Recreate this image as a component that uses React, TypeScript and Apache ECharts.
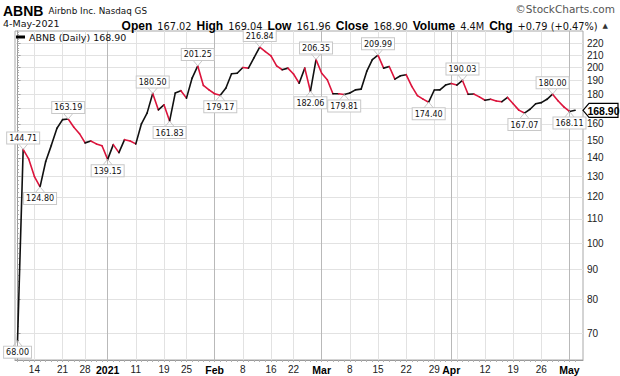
import React, { useEffect, useRef } from 'react';
import * as echarts from 'echarts';

// Trading days (Dec 9, 2020 = IPO price point) through May 4, 2021
const dates = [
  '2020-12-09','2020-12-10','2020-12-11','2020-12-14','2020-12-15','2020-12-16','2020-12-17','2020-12-18',
  '2020-12-21','2020-12-22','2020-12-23','2020-12-24','2020-12-28','2020-12-29','2020-12-30','2020-12-31',
  '2021-01-04','2021-01-05','2021-01-06','2021-01-07','2021-01-08','2021-01-11','2021-01-12','2021-01-13',
  '2021-01-14','2021-01-15','2021-01-19','2021-01-20','2021-01-21','2021-01-22','2021-01-25','2021-01-26',
  '2021-01-27','2021-01-28','2021-01-29','2021-02-01','2021-02-02','2021-02-03','2021-02-04','2021-02-05',
  '2021-02-08','2021-02-09','2021-02-10','2021-02-11','2021-02-12','2021-02-16','2021-02-17','2021-02-18',
  '2021-02-19','2021-02-22','2021-02-23','2021-02-24','2021-02-25','2021-02-26','2021-03-01','2021-03-02',
  '2021-03-03','2021-03-04','2021-03-05','2021-03-08','2021-03-09','2021-03-10','2021-03-11','2021-03-12',
  '2021-03-15','2021-03-16','2021-03-17','2021-03-18','2021-03-19','2021-03-22','2021-03-23','2021-03-24',
  '2021-03-25','2021-03-26','2021-03-29','2021-03-30','2021-03-31','2021-04-01','2021-04-05','2021-04-06',
  '2021-04-07','2021-04-08','2021-04-09','2021-04-12','2021-04-13','2021-04-14','2021-04-15','2021-04-16',
  '2021-04-19','2021-04-20','2021-04-21','2021-04-22','2021-04-23','2021-04-26','2021-04-27','2021-04-28',
  '2021-04-29','2021-04-30','2021-05-03','2021-05-04'
];

const closes = [
  68.00, 144.71, 139.25, 130.00, 124.80, 137.99, 147.05, 157.30,
  162.80, 163.19, 158.00, 154.00, 148.50, 149.60, 147.90, 146.80,
  139.15, 147.50, 142.90, 150.40, 149.60, 147.90, 160.10, 167.00,
  180.50, 169.20, 172.60, 161.83, 180.80, 182.50, 177.20, 191.80,
  201.25, 186.30, 183.10, 180.30, 179.17, 184.40, 195.10, 195.50,
  200.00, 199.50, 208.00, 216.84, 213.00, 209.40, 201.30, 198.20,
  199.50, 194.90, 188.00, 199.50, 182.06, 206.35, 195.50, 190.50,
  180.30, 180.30, 179.81, 180.80, 183.10, 183.60, 196.90, 206.30,
  209.99, 199.50, 200.80, 191.00, 193.60, 194.40, 185.60, 179.00,
  176.50, 174.40, 183.00, 183.10, 186.60, 187.70, 186.60, 190.03,
  179.90, 180.10, 178.10, 175.70, 176.40, 175.20, 174.70, 177.70,
  173.30, 169.00, 167.07, 169.60, 173.30, 174.10, 176.40, 180.00,
  175.20, 171.20, 168.11, 168.90
];

// Annotated highs/lows
const annDates = [
  '2020-12-09','2020-12-10','2020-12-15','2020-12-22','2021-01-04','2021-01-14','2021-01-20','2021-01-27',
  '2021-02-02','2021-02-11','2021-02-25','2021-02-26','2021-03-05','2021-03-15','2021-03-26','2021-04-06',
  '2021-04-21','2021-04-28','2021-05-03'
];
const annSides = ['down','up','down','up','down','up','down','up','down','up','down','up','down','up','down','up','down','up','down'];

const tickDates = [
  '2020-12-14','2020-12-21','2020-12-28','2021-01-04','2021-01-11','2021-01-19','2021-01-25','2021-02-01',
  '2021-02-08','2021-02-16','2021-02-22','2021-03-01','2021-03-08','2021-03-15','2021-03-22','2021-03-29',
  '2021-04-01','2021-04-12','2021-04-19','2021-04-26','2021-05-03'
];
const tickLabels = ['14','21','28','2021','11','19','25','Feb','8','16','22','Mar','8','15','22','29','Apr','12','19','26','May'];
const monthStartDates = ['2021-01-04','2021-02-01','2021-03-01','2021-04-01','2021-05-03'];
const weekGridDates = [
  '2020-12-14','2020-12-21','2020-12-28','2021-01-11','2021-01-19','2021-01-25','2021-02-08','2021-02-16',
  '2021-02-22','2021-03-08','2021-03-15','2021-03-22','2021-03-29','2021-04-05','2021-04-12','2021-04-19','2021-04-26'
];

const yTicks = [70, 80, 90, 100, 110, 120, 130, 140, 150, 160, 170, 180, 190, 200, 210, 220];
const yLabelTicks = [70, 80, 90, 100, 110, 120, 130, 140, 150, 160, 180, 190, 200, 210, 220];
const yMinorTicks: number[] = [];
for (let v = 64; v <= 230; v += 2) yMinorTicks.push(v);

const legendName = 'ABNB (Daily) 168.90';
const lastClose = closes[closes.length - 1];

const RED = '#dc143c';
const BLACK = '#111111';
const GRID = '#e2e2e2';
const MONTH_GRID = '#b9b9b9';
const AXIS = '#9a9a9a';

export default function App() {
  const ref = useRef<HTMLDivElement>(null);
  useEffect(() => {
    if (!ref.current) return;
    const chart = echarts.init(ref.current, undefined, { renderer: 'svg' });
    const idx = (d: string) => dates.indexOf(d);
    const tickIdx = tickDates.map(idx);
    const monthIdx = monthStartDates.map(idx);
    const weekIdx = weekGridDates.map(idx);
    const allIdx = dates.map((_, i) => i);

    const segData = closes.slice(1).map((c, k) => [k + 1, closes[k], c]);
    const annData = annDates.map((d, k) => [idx(d), closes[idx(d)], annSides[k] === 'up' ? 1 : -1]);

    const xMin = -0.45;
    const xMax = 100.4;

    const option: any = {
      animation: false,
      backgroundColor: '#ffffff',
      title: [
        {
          left: 3, top: 2, padding: 0,
          text: '{a|ABNB} {b|Airbnb Inc. Nasdaq GS}',
          textStyle: {
            rich: {
              a: { fontFamily: 'Liberation Sans', fontWeight: 'bold', fontSize: 14, color: '#000' },
              b: { fontFamily: 'DejaVu Sans', fontWeight: 'normal', fontSize: 8.8, color: '#111' },
            },
          },
        },
        {
          right: 5, top: 3, padding: 0,
          text: '\u00A9StockCharts.com',
          textStyle: { fontFamily: 'DejaVu Sans', fontSize: 10.5, fontWeight: 'normal', color: '#555' },
        },
        {
          left: 3, top: 18, padding: 0,
          text: '4-May-2021',
          textStyle: { fontFamily: 'DejaVu Sans', fontSize: 9.5, fontWeight: 'normal', color: '#111' },
        },
        {
          right: 12, top: 17, padding: 0,
          text: '{b|Open} {n|167.02} {b|High} {n|169.04} {b|Low} {n|161.96} {b|Close} {n|168.90} {b|Volume} {n|4.4M} {b|Chg} {n|+0.79 (+0.47%)} {t|\u25B2}',
          textStyle: {
            rich: {
              b: { fontFamily: 'Liberation Sans', fontWeight: 'bold', fontSize: 12, color: '#000' },
              n: { fontFamily: 'DejaVu Sans', fontWeight: 'normal', fontSize: 9.8, color: '#111' },
              t: { fontFamily: 'DejaVu Sans', fontWeight: 'normal', fontSize: 7, color: '#333' },
            },
          },
        },
      ],
      legend: {
        show: true,
        left: 16, top: 32, padding: 0,
        icon: 'rect', itemWidth: 9, itemHeight: 3, itemGap: 4,
        data: [legendName],
        selectedMode: false,
        textStyle: { fontFamily: 'DejaVu Sans', fontSize: 9.5, color: '#111', padding: [0, 0, 0, -1] },
      },
      grid: {
        left: 15, right: 37, top: 31, bottom: 16,
        show: true, borderColor: '#a8a8a8', borderWidth: 1,
      },
      xAxis: [
        {
          type: 'value', min: xMin, max: xMax,
          axisLine: { show: true, onZero: false, lineStyle: { color: AXIS } },
          axisTick: { show: false, customValues: weekIdx },
          splitLine: { show: true, lineStyle: { color: GRID, width: 1 } },
          axisLabel: {
            show: true, customValues: tickIdx, margin: 4,
            fontFamily: 'Liberation Sans', fontSize: 10, color: '#222',
            formatter: (v: number) => {
              const k = tickIdx.indexOf(Math.round(v));
              if (k < 0) return '';
              const lab = tickLabels[k];
              return monthIdx.includes(Math.round(v)) ? '{m|' + lab + '}' : lab;
            },
            rich: { m: { fontFamily: 'Liberation Sans', fontWeight: 'bold', fontSize: 10.5, color: '#000' } },
          },
        },
        {
          type: 'value', min: xMin, max: xMax, position: 'bottom',
          axisLine: { show: false },
          axisTick: { show: false, customValues: monthIdx },
          splitLine: { show: true, lineStyle: { color: MONTH_GRID, width: 1 } },
          axisLabel: { show: false },
        },
        {
          type: 'value', min: xMin, max: xMax, position: 'bottom',
          axisLine: { show: false },
          axisTick: { show: true, customValues: allIdx, length: 2, lineStyle: { color: '#b0b0b0' } },
          splitLine: { show: false },
          axisLabel: { show: false },
        },
      ],
      yAxis: [
        {
          type: 'log', logBase: 10, min: 63, max: 231, position: 'right',
          axisLine: { show: true, lineStyle: { color: AXIS } },
          axisTick: { show: true, customValues: yTicks, length: 3, lineStyle: { color: AXIS } },
          axisLabel: {
            show: true, customValues: yLabelTicks, margin: 4,
            fontFamily: 'Liberation Sans', fontSize: 10, color: '#222',
          },
          splitLine: { show: true, lineStyle: { color: GRID, width: 1 } },
        },
        {
          type: 'log', logBase: 10, min: 63, max: 231, position: 'right',
          axisLine: { show: false },
          axisTick: { show: true, customValues: yMinorTicks, length: 1.5, lineStyle: { color: '#b0b0b0' } },
          axisLabel: { show: false },
          splitLine: { show: false },
        },
      ],
      series: [
        {
          type: 'custom', name: legendName,
          xAxisIndex: 0, yAxisIndex: 0,
          data: segData,
          encode: { x: 0, y: 2 },
          itemStyle: { color: '#000' },
          z: 3,
          renderItem: (params: any, api: any) => {
            const i = api.value(0);
            const p = api.value(1);
            const c = api.value(2);
            const a = api.coord([i - 1, p]);
            const b = api.coord([i, c]);
            return {
              type: 'line',
              shape: { x1: a[0], y1: a[1], x2: b[0], y2: b[1] },
              style: { stroke: c < p ? RED : BLACK, lineWidth: 1.6, lineCap: 'round' },
            };
          },
        },
        {
          type: 'custom', name: 'annotations',
          xAxisIndex: 0, yAxisIndex: 0,
          data: annData,
          encode: { x: 0, y: 1 },
          z: 4,
          renderItem: (params: any, api: any) => {
            const i = api.value(0);
            const v = api.value(1);
            const dir = api.value(2);
            const pt = api.coord([i, v]);
            const gap = 6;
            const edge = pt[1] - dir * gap;
            return {
              type: 'group',
              children: [
                { type: 'line', shape: { x1: pt[0], y1: pt[1], x2: pt[0] - 5, y2: edge }, style: { stroke: '#c8c8c8', lineWidth: 1 } },
                { type: 'line', shape: { x1: pt[0], y1: pt[1], x2: pt[0] + 5, y2: edge }, style: { stroke: '#c8c8c8', lineWidth: 1 } },
                {
                  type: 'text',
                  x: pt[0], y: edge,
                  style: {
                    text: v.toFixed(2),
                    font: '8px "DejaVu Sans"',
                    fill: '#111',
                    align: 'center',
                    verticalAlign: dir > 0 ? 'bottom' : 'top',
                    backgroundColor: '#ffffff',
                    borderColor: '#c8c8c8',
                    borderWidth: 1,
                    padding: [2, 2, 1, 2],
                  },
                },
              ],
            };
          },
        },
        {
          type: 'custom', name: 'last',
          xAxisIndex: 0, yAxisIndex: 0,
          data: [[closes.length - 1, lastClose]],
          encode: { x: 0, y: 1 },
          z: 5,
          renderItem: (params: any, api: any) => {
            const pt = api.coord([api.value(0), api.value(1)]);
            const xr = params.coordSys.x + params.coordSys.width;
            const y = pt[1];
            const h = 7;
            return {
              type: 'group',
              children: [
                {
                  type: 'polygon',
                  shape: { points: [[xr, y], [xr + 6, y - h], [xr + 35, y - h], [xr + 35, y + h], [xr + 6, y + h]] },
                  style: { fill: '#ffffff', stroke: '#000', lineWidth: 1.2 },
                },
                {
                  type: 'text',
                  x: xr + 20.5, y: y + 0.5,
                  style: {
                    text: api.value(1).toFixed(2),
                    font: 'bold 10.5px "Liberation Sans"',
                    fill: '#000', align: 'center', verticalAlign: 'middle',
                  },
                },
              ],
            };
          },
        },
      ],
    };
    chart.setOption(option);
    return () => chart.dispose();
  }, []);
  return <div ref={ref} style={{ position: 'fixed', left: 0, top: 0, width: 620, height: 376 }} />;
}
